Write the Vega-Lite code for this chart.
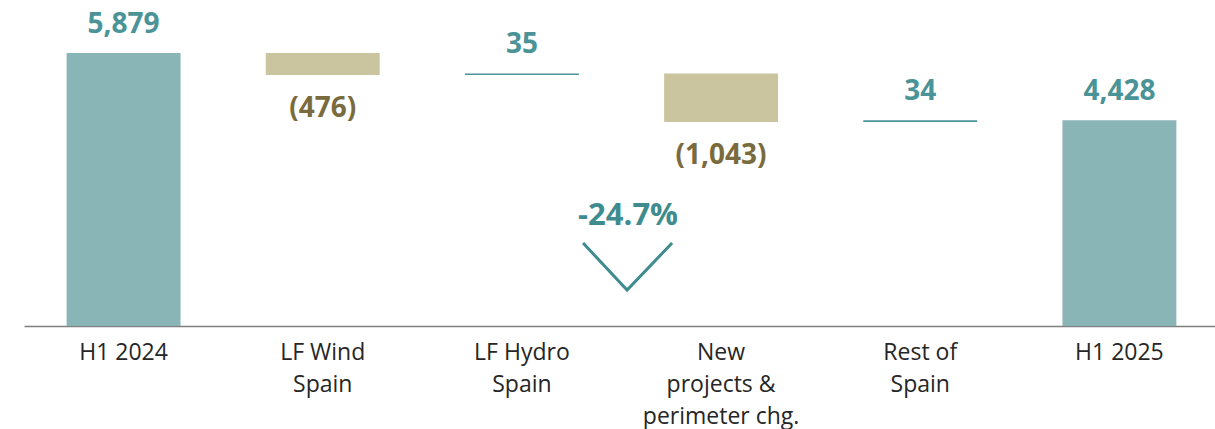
{
  "$schema": "https://vega.github.io/schema/vega-lite/v6.json",
  "autosize": "none",
  "padding": {"left": 24, "top": 0, "right": 0, "bottom": 103},
  "width": 1195,
  "height": 326,
  "config": {"view": {"stroke": null}, "font": "Open Sans"},
  "datasets": {
    "steps": [
      {"cat": "H1 2024", "start": 0, "end": 5879, "label": "5,879", "kind": "total"},
      {"cat": "LF Wind|Spain", "start": 5879, "end": 5403, "label": "(476)", "kind": "decrease"},
      {"cat": "LF Hydro|Spain", "start": 5403, "end": 5438, "label": "35", "kind": "increase"},
      {"cat": "New|projects &|perimeter chg.", "start": 5438, "end": 4395, "label": "(1,043)", "kind": "decrease"},
      {"cat": "Rest of|Spain", "start": 4395, "end": 4429, "label": "34", "kind": "increase"},
      {"cat": "H1 2025", "start": 0, "end": 4428, "label": "4,428", "kind": "total"}
    ],
    "chevron": [
      {"pos": 2.807, "val": 1787, "ord": 1},
      {"pos": 3.028, "val": 775, "ord": 2},
      {"pos": 3.254, "val": 1787, "ord": 3}
    ],
    "pct": [
      {"pos": 3.033, "val": 2175, "label": "-24.7%"}
    ]
  },
  "layer": [
    {
      "data": {"name": "steps"},
      "encoding": {
        "x": {
          "field": "cat", "type": "nominal", "sort": null,
          "scale": {"paddingInner": 0.428, "paddingOuter": 0.214},
          "axis": {
            "title": null, "labelAngle": 0, "ticks": false, "orient": "bottom",
            "domainColor": "#808080", "domainWidth": 1.5,
            "labelFont": "Open Sans", "labelFontSize": 23, "labelColor": "#262626",
            "labelPadding": 15, "labelLineHeight": 32, "labelBaseline": "top",
            "labelExpr": "split(datum.label, '|')"
          }
        },
        "y": {"field": "end", "type": "quantitative", "scale": {"domain": [0, 7020], "nice": false}, "axis": null}
      },
      "layer": [
        {
          "mark": {"type": "bar"},
          "encoding": {
            "y": {"field": "start", "type": "quantitative", "scale": {"domain": [0, 7020], "nice": false}, "axis": null},
            "y2": {"field": "end"},
            "color": {
              "field": "kind", "type": "nominal", "legend": null,
              "scale": {"domain": ["total", "decrease", "increase"], "range": ["#8AB5B6", "#CBC59F", "#4A9599"]}
            }
          }
        },
        {
          "transform": [{"filter": "datum.kind != 'decrease'"}],
          "mark": {"type": "text", "baseline": "alphabetic", "dy": -20, "fontSize": 28, "fontWeight": "bold", "color": "#4A9396", "font": "Open Sans"},
          "encoding": {"text": {"field": "label"}}
        },
        {
          "transform": [{"filter": "datum.kind == 'decrease'"}],
          "mark": {"type": "text", "baseline": "top", "dy": 20, "fontSize": 28, "fontWeight": "bold", "color": "#7A6B3E", "font": "Open Sans"},
          "encoding": {"text": {"field": "label"}}
        }
      ]
    },
    {
      "encoding": {
        "x": {"field": "pos", "type": "quantitative", "scale": {"domain": [0, 6], "nice": false, "zero": false}, "axis": null},
        "y": {"field": "val", "type": "quantitative"}
      },
      "layer": [
        {
          "data": {"name": "chevron"},
          "mark": {"type": "line", "color": "#3F8C8F", "strokeWidth": 3},
          "encoding": {"order": {"field": "ord", "type": "quantitative"}}
        },
        {
          "data": {"name": "pct"},
          "mark": {"type": "text", "baseline": "alphabetic", "fontSize": 31, "fontWeight": "bold", "color": "#3F8C8F", "font": "Open Sans"},
          "encoding": {"text": {"field": "label"}}
        }
      ]
    }
  ],
  "resolve": {"scale": {"x": "independent"}}
}
